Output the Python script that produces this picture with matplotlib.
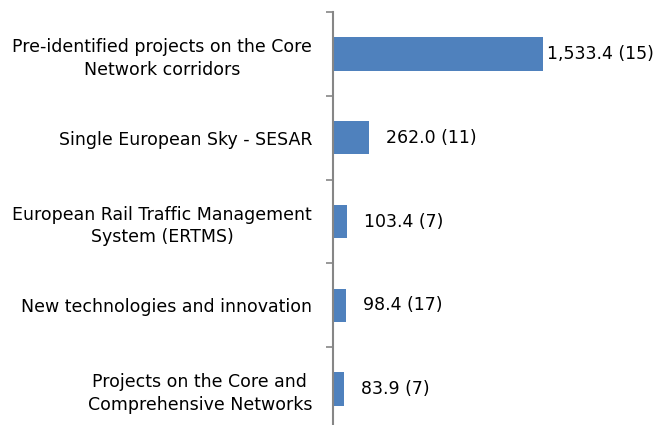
import matplotlib

matplotlib.use("Agg")
import matplotlib.pyplot as plt

categories = [
    "Pre-identified projects on the Core\nNetwork corridors",
    "Single European Sky - SESAR",
    "European Rail Traffic Management\nSystem (ERTMS)",
    "New technologies and innovation",
    "Projects on the Core and\nComprehensive Networks",
]
amounts = [1533.4, 262.0, 103.4, 98.4, 83.9]
counts = [15, 11, 7, 17, 7]

BAR_COLOR = "#4F81BD"
AXIS_COLOR = "#868686"

fig = plt.figure(figsize=(6.56, 4.25), dpi=100)
ax = fig.add_axes([333 / 656, -6 / 425, 323 / 656, 419 / 425])

pos = list(range(len(categories)))
ax.barh(pos, amounts, height=0.4, color=BAR_COLOR)
ax.set_ylim(len(categories) - 0.5, -0.5)
ax.set_xlim(0, 2358)

for i, (v, n) in enumerate(zip(amounts, counts)):
    off = 3 if i == 0 else 12
    ax.annotate(f"{v:,.1f} ({n})", (v, i), xytext=(off, 0), textcoords="offset points",
                va="center", ha="left", fontsize=12.5, color="#000000")

ax.set_yticks(pos)
ax.set_yticklabels(categories, fontsize=12.5, linespacing=1.35,
                   ha="right", multialignment="center")
ax.tick_params(axis="y", which="major", length=0, pad=15)
ax.set_yticks([i - 0.5 for i in range(len(categories) + 1)], minor=True)
ax.tick_params(axis="y", which="minor", length=5, width=1.2, color=AXIS_COLOR)

ax.set_xticks([])
for s in ("top", "right", "bottom"):
    ax.spines[s].set_visible(False)
ax.spines["left"].set_color(AXIS_COLOR)
ax.spines["left"].set_linewidth(1.5)

fig.savefig("out.png", dpi=100)
